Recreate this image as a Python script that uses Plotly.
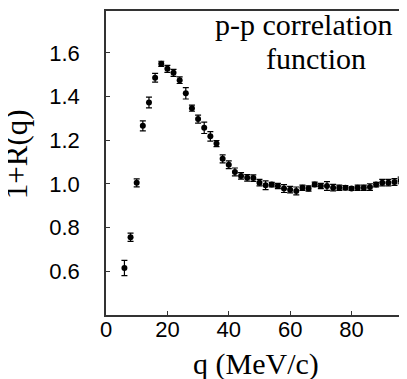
import plotly.graph_objs as go

# p-p correlation function
q_mev = [6, 8, 10, 12, 14, 16, 18, 20, 22, 24, 26, 28, 30, 32, 34, 36, 38, 40,
         42, 44, 46, 48, 50, 52, 54, 56, 58, 60, 62, 64, 66, 68, 70, 72, 74, 76,
         78, 80, 82, 84, 86, 88, 90, 92, 94, 96, 98]
one_plus_r = [0.615, 0.756, 1.005, 1.266, 1.373, 1.486, 1.55, 1.527, 1.509, 1.475,
              1.415, 1.347, 1.297, 1.257, 1.218, 1.185, 1.115, 1.088, 1.055, 1.037,
              1.028, 1.027, 1.006, 0.994, 0.997, 0.991, 0.979, 0.974, 0.968, 0.983,
              0.979, 0.998, 0.991, 0.991, 0.983, 0.983, 0.983, 0.979, 0.983, 0.983,
              0.986, 0.997, 1.006, 1.006, 1.009, 1.016, 1.016]
err = [0.035, 0.019, 0.018, 0.023, 0.025, 0.020, 0.012, 0.016, 0.016, 0.015,
       0.026, 0.014, 0.018, 0.026, 0.022, 0.014, 0.018, 0.018, 0.018, 0.015,
       0.015, 0.015, 0.015, 0.020, 0.010, 0.012, 0.018, 0.015, 0.018, 0.012,
       0.012, 0.010, 0.012, 0.020, 0.015, 0.012, 0.010, 0.008, 0.012, 0.012,
       0.015, 0.010, 0.015, 0.015, 0.015, 0.015, 0.015]

x_ticks = [0, 20, 40, 60, 80]
y_ticks = [0.6, 0.8, 1.0, 1.2, 1.4, 1.6]

SANS = "Liberation Sans, Arial, sans-serif"
SERIF = "Liberation Serif, Times New Roman, serif"
LINE = "#333333"

fig = go.Figure()
fig.add_trace(go.Scatter(
    x=q_mev, y=one_plus_r, mode="markers",
    marker=dict(color="black", size=6),
    error_y=dict(type="data", array=err, color="black", thickness=1.2, width=3),
    showlegend=False,
))

axis_common = dict(showline=True, linecolor=LINE, linewidth=1.5, mirror=True,
                   ticks="inside", ticklen=4, tickcolor=LINE, tickwidth=1.2,
                   showgrid=False, zeroline=False,
                   tickfont=dict(family=SANS, size=22, color="black"))

fig.update_xaxes(range=[0, 99.7], tickvals=x_ticks, ticktext=[str(v) for v in x_ticks],
                 ticklabelstandoff=-6, **axis_common)
fig.update_yaxes(range=[0.4, 1.792], tickvals=y_ticks,
                 ticktext=["%.1f" % v for v in y_ticks],
                 ticklabelstandoff=20, **axis_common)

annots = [
    dict(text="p-p correlation", x=0.647, y=0.955, font=dict(size=30)),
    dict(text="function", x=0.687, y=0.845, font=dict(size=30)),
    dict(text="q (MeV/c)", x=0.49, y=-0.16, font=dict(size=30)),
    dict(text="1+R(q)", x=-0.29, y=0.53, font=dict(size=31), textangle=-90),
]
for a in annots:
    a["font"].update(family=SERIF, color="black")
    fig.add_annotation(xref="paper", yref="paper", showarrow=False,
                       xanchor="center", yanchor="middle", **a)

fig.update_layout(width=407, height=379, margin=dict(l=98, r=2, t=1, b=72),
                  paper_bgcolor="white", plot_bgcolor="white")

fig.write_html("out.html")
